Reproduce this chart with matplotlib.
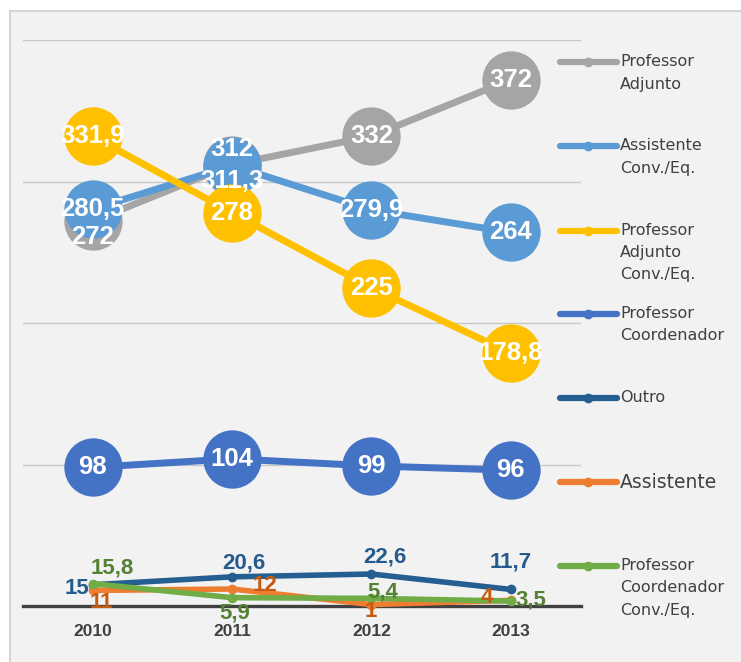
import matplotlib
matplotlib.use('Agg')
import matplotlib.pyplot as plt
from matplotlib.lines import Line2D
from matplotlib.patches import Rectangle

# --- Data ---
years = ['2010', '2011', '2012', '2013']

series_names = [
    'Professor\nAdjunto',
    'Assistente\nConv./Eq.',
    'Professor\nAdjunto\nConv./Eq.',
    'Professor\nCoordenador',
    'Outro',
    'Assistente',
    'Professor\nCoordenador\nConv./Eq.',
]

prof_adjunto = [272, 312, 332, 372]
assist_conv = [280.5, 311.3, 279.9, 264]
prof_adjunto_conv = [331.9, 278, 225, 178.8]
prof_coord = [98, 104, 99, 96]
outro = [15, 20.6, 22.6, 11.7]
assistente = [11, 12, 1, 4]
prof_coord_conv = [15.8, 5.9, 5.4, 3.5]

# --- Style ---
W, H = 741, 662
LABEL_FONT = 'Liberation Sans'
colors = ['#a5a5a5', '#5b9bd5', '#ffc000', '#4472c4', '#255e91', '#ed7d31', '#70ad47']
label_colors = ['white', 'white', 'white', 'white', '#245a8c', '#c55a11', '#548235']
big = [True, True, True, True, False, False, False]

# label offsets in pixels (dx, dy) per series / year
offsets = [
    [(0, -16), (0, 16), (0, 0), (0, 0)],
    [(0, 0), (0, -15), (0, 0), (0, 0)],
    [(0, 0), (0, 0), (0, 0), (0, 0)],
    [(0, 0), (0, 0), (0, 0), (0, 0)],
    [(-16, -4), (12, 14), (13, 17), (0, 27)],
    [(9, -12), (33, 4), (-1, -7), (-24, 3)],
    [(20, 16), (3, -15), (11, 6), (20, 1)],
]

legend_y = [62, 146, 231, 314, 398, 482, 566]
legend_line_gap = 22


def fmt(v):
    return f'{v:g}'.replace('.', ',')


fig = plt.figure(figsize=(W / 100, H / 100), dpi=100)
fig.patch.set_facecolor('white')

# outer chart frame
fig.add_artist(Rectangle((10 / W, -0.1), 1.0, (H - 11) / H + 0.1, transform=fig.transFigure,
                         facecolor='#f2f2f2', edgecolor='#d4d4d4', lw=1.5, zorder=0))

ax = fig.add_axes([23 / W, (H - 606) / H, 557.5 / W, 566 / H])
ax.set_facecolor('none')
ax.set_xlim(-0.5, 3.5)
ax.set_ylim(0, 400)
for s in ax.spines.values():
    s.set_visible(False)

ax.set_yticks([100, 200, 300, 400])
ax.set_yticklabels([])
ax.tick_params(axis='y', length=0)
ax.grid(axis='y', color='#c8c8c8', lw=1)
ax.set_axisbelow(True)
ax.axhline(0, color='#404040', lw=2.4, zorder=1.5, clip_on=False)

x = list(range(len(years)))
ax.set_xticks(x)
ax.set_xticklabels(years, fontsize=12.5, fontweight='bold', color='#404040', family=LABEL_FONT)
ax.tick_params(axis='x', length=0, pad=13)

all_series = [prof_adjunto, assist_conv, prof_adjunto_conv, prof_coord,
              outro, assistente, prof_coord_conv]

for i, vals in enumerate(all_series):
    if big[i]:
        ax.plot(x, vals, color=colors[i], lw=5, marker='o', ms=42, mew=0,
                zorder=2 + i, clip_on=False)
    else:
        ax.plot(x, vals, color=colors[i], lw=4, marker='o', ms=7, mew=0,
                zorder=2 + i, clip_on=False)

# data labels on top of everything
for i, vals in enumerate(all_series):
    fs = 18.5 if big[i] else 16
    for j, v in enumerate(vals):
        ax.annotate(fmt(v), (x[j], v), xytext=offsets[i][j], textcoords='offset pixels',
                    ha='center', va='center', fontsize=fs, fontweight='bold',
                    family=LABEL_FONT, color=label_colors[i], zorder=20,
                    annotation_clip=False)

# --- Legend (drawn by hand so the handle sits on the first text line) ---
for i, name in enumerate(series_names):
    yf = 1 - legend_y[i] / H
    fig.add_artist(Line2D([560 / W, 617 / W], [yf, yf], transform=fig.transFigure,
                          color=colors[i], lw=4.5, solid_capstyle='round'))
    fig.add_artist(Line2D([588 / W], [yf], transform=fig.transFigure, color=colors[i],
                          marker='o', ms=7, mew=0))
    fs = 13.5 if name == 'Assistente' else 11.5
    for k, line in enumerate(name.split('\n')):
        fig.text(620 / W, 1 - (legend_y[i] + k * legend_line_gap) / H, line,
                 fontsize=fs, color='#404040', ha='left', va='center')

fig.savefig('out.png', dpi=100, facecolor=fig.get_facecolor())
